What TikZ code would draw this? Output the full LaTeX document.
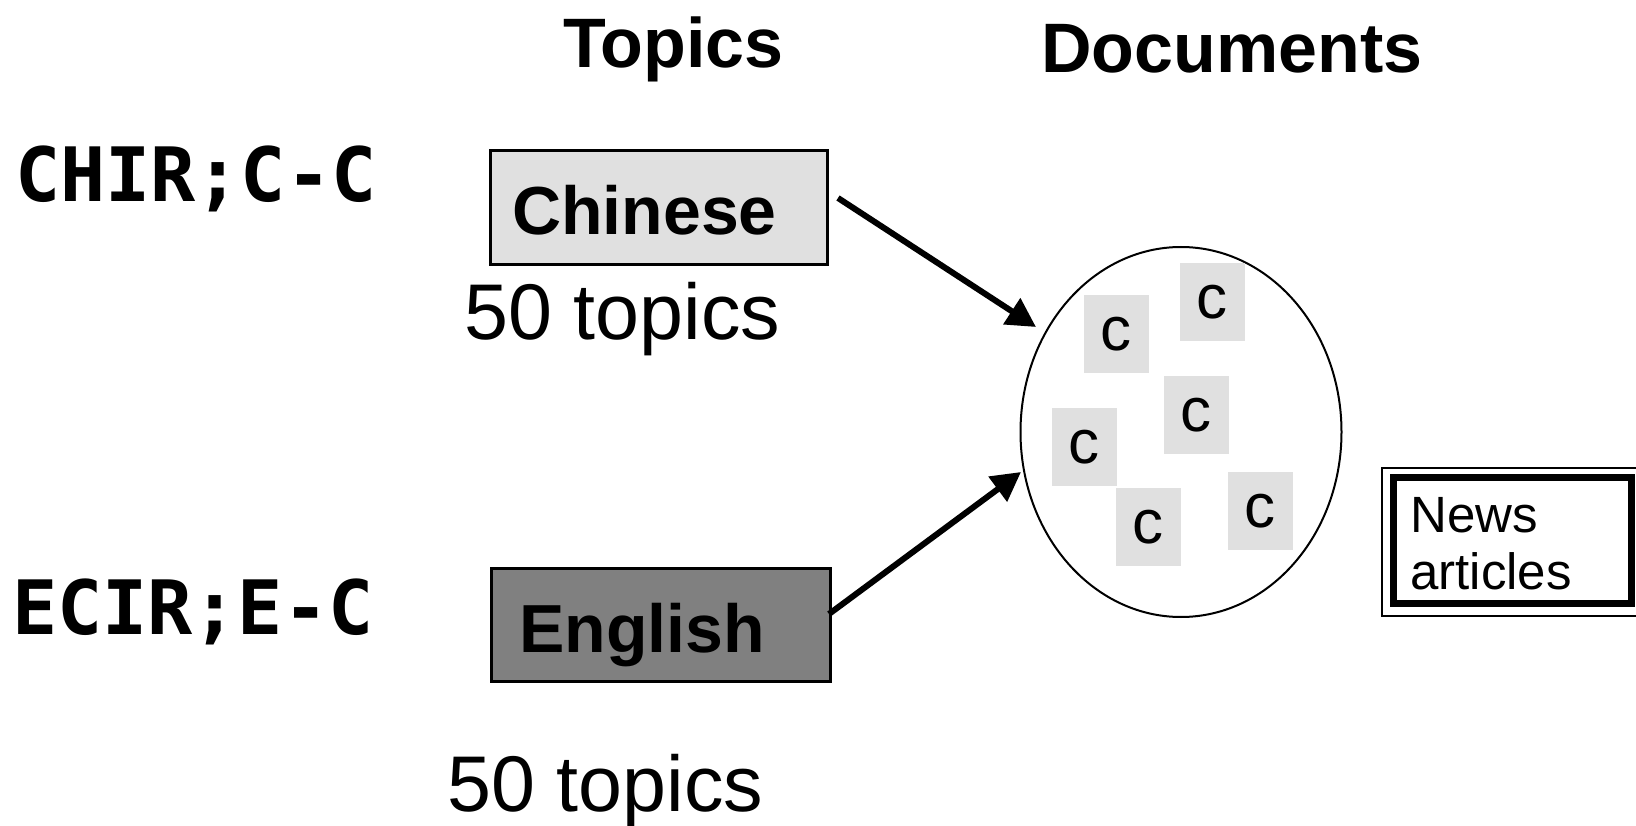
\documentclass[tikz,border=0pt]{standalone}
\usepackage{fontspec}
\setmainfont{Liberation Sans}
\newfontfamily\codefont{DejaVu Sans Mono}
\usetikzlibrary{arrows.meta,shapes.geometric}
\definecolor{lightbox}{HTML}{E0E0E0}
\definecolor{darkbox}{HTML}{808080}
\newcommand{\fsz}[1]{\fontsize{#1}{#1}\selectfont}
\tikzset{
  heading/.style={anchor=base west,inner sep=0pt,font=\fsz{70}\bfseries},
  runlabel/.style={anchor=base west,inner sep=0pt,font=\fsz{75}\codefont\bfseries},
  langbox/.style={draw=black,line width=3pt,inner sep=0pt,minimum width=337pt,minimum height=114pt},
  langtext/.style={anchor=base west,inner sep=0pt,font=\fsz{68}\bfseries},
  counttext/.style={anchor=base west,inner sep=0pt,font=\fsz{79}},
  doc/.style={fill=lightbox,inner sep=0pt,minimum width=65pt,minimum height=78pt,font=\fsz{62}},
  feed/.style={line width=6pt,-{Triangle[length=29pt,width=30pt]}},
}
\begin{document}
\begin{tikzpicture}[x=1pt,y=-1pt]
\useasboundingbox (0,0) rectangle (1636,826);

% column headings
\node[heading] (topics) at (563,68) {Topics};
\node[heading] (documents) at (1041,73) {Documents};

% run names
\node[runlabel] (chir) at (15,202) {CHIR;C-C};
\node[runlabel] (ecir) at (12,634) {ECIR;E-C};

% topic language boxes
\node[langbox,fill=lightbox] (chinese) at (658.5,208) {};
\node[langtext] (chinesetxt) at (512,235) {Chinese};
\node[counttext] (chcount) at (464,339) {50 topics};

\node[langbox,fill=darkbox,minimum width=339pt,minimum height=113pt] (english) at (660.5,624.5) {};
\node[langtext] (englishtxt) at (519,652) {English};
\node[counttext] (encount) at (447,811) {50 topics};

% document collection
\node[ellipse,draw=black,line width=2pt,minimum width=321pt,minimum height=370pt,inner sep=0pt] (docs) at (1181,432) {};
\node[doc] (d1) at (1116,334) {c};
\node[doc] (d2) at (1212,302) {c};
\node[doc] (d3) at (1196,415) {c};
\node[doc] (d4) at (1084,447) {c};
\node[doc] (d5) at (1148,527) {c};
\node[doc] (d6) at (1260,511) {c};

% arrows from topics to the collection
\coordinate (chstart) at (838,198);
\coordinate (chend) at (1036,327);
\coordinate (enstart) at (829,614);
\coordinate (enend) at (1021,472);
\draw[feed] (chstart) -- (chend);
\draw[feed] (enstart) -- (enend);

% legend box
\draw[line width=1.5pt,fill=white] (1382,468) rectangle (1650,616);
\node[draw=black,line width=7pt,fill=white,minimum width=238pt,minimum height=126pt,inner sep=0pt] (news) at (1512,540.5) {};
\node[anchor=base west,inner sep=0pt,font=\fsz{51}] (newstxt) at (1410,532) {News};
\node[anchor=base west,inner sep=0pt,font=\fsz{51}] (articlestxt) at (1410,589) {articles};
\end{tikzpicture}
\end{document}
